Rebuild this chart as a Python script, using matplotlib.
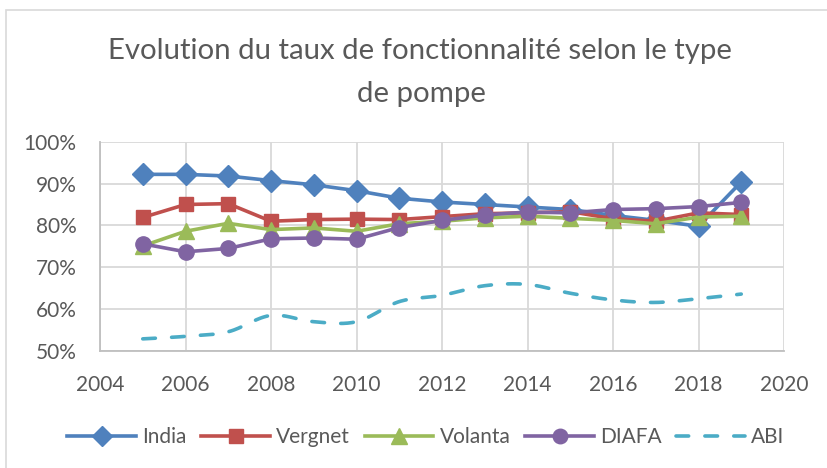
import numpy as np
import matplotlib
matplotlib.use("Agg")
import matplotlib.pyplot as plt
from matplotlib.lines import Line2D
from matplotlib.patches import Rectangle

years = [2005, 2006, 2007, 2008, 2009, 2010, 2011, 2012, 2013, 2014, 2015, 2016, 2017, 2018, 2019]
india = [92.2, 92.2, 91.8, 90.7, 89.7, 88.3, 86.5, 85.6, 85.0, 84.4, 83.8, 82.4, 81.2, 79.8, 90.4]
vergnet = [81.9, 85.0, 85.2, 81.0, 81.4, 81.5, 81.4, 82.1, 82.8, 83.0, 83.3, 81.6, 81.0, 83.0, 82.6]
volanta = [75.1, 78.6, 80.5, 79.0, 79.4, 78.6, 80.4, 81.0, 81.8, 82.2, 81.7, 81.2, 80.4, 82.0, 82.2]
diafa = [75.6, 73.7, 74.5, 76.8, 77.0, 76.7, 79.5, 81.2, 82.5, 83.2, 83.0, 83.8, 84.0, 84.5, 85.5]
abi = [52.9, 53.5, 54.6, 58.5, 57.0, 57.0, 61.8, 63.3, 65.6, 65.9, 63.8, 62.2, 61.6, 62.5, 63.6]

title_lines = ["Evolution du taux de fonctionnalité selon le type", "de pompe"]
xticks = [2004, 2006, 2008, 2010, 2012, 2014, 2016, 2018, 2020]
yticks = [50, 60, 70, 80, 90, 100]

FONT = "Lato"
TXT = "#595959"
plt.rcParams['font.family'] = [FONT, 'DejaVu Sans']

W, H = 827, 468
fig = plt.figure(figsize=(W / 100, H / 100), dpi=100)
fig.patches.append(Rectangle((6 / W, -0.1), 1.2, 1 - 9.5 / H + 0.1, transform=fig.transFigure,
                             fill=False, edgecolor="#D9D9D9", lw=1.2))

ax = fig.add_axes([100 / W, 1 - 351 / H, 684 / W, (351 - 141.7) / H])

def smooth(x, y, n=30):
    x = np.asarray(x, float); y = np.asarray(y, float)
    px = np.concatenate([[x[0]], x, [x[-1]]])
    py = np.concatenate([[y[0]], y, [y[-1]]])
    xs, ys = [], []
    t = np.linspace(0, 1, n)
    for i in range(1, len(px) - 2):
        p0 = np.array([px[i], py[i]]); p3 = np.array([px[i + 1], py[i + 1]])
        c1 = p0 + (np.array([px[i + 1], py[i + 1]]) - np.array([px[i - 1], py[i - 1]])) / 6
        c2 = p3 - (np.array([px[i + 2], py[i + 2]]) - np.array([px[i], py[i]])) / 6
        b = ((1 - t) ** 3)[:, None] * p0 + (3 * (1 - t) ** 2 * t)[:, None] * c1 + \
            (3 * (1 - t) * t ** 2)[:, None] * c2 + (t ** 3)[:, None] * p3
        xs.extend(b[:, 0]); ys.extend(b[:, 1])
    return np.array(xs), np.array(ys)

LW = 2.6
series = [
    ("India", india, "#4F81BD", "D", 11),
    ("Vergnet", vergnet, "#C0504D", "s", 10),
    ("Volanta", volanta, "#9BBB59", "^", 11.5),
    ("DIAFA", diafa, "#8064A2", "o", 11),
]
handles = []
for name, vals, col, mk, ms in series:
    ax.plot(years, np.array(vals) / 100, color=col, lw=LW, marker=mk, ms=ms,
            markeredgecolor=col, markerfacecolor=col, zorder=3, solid_joinstyle="round")
    handles.append(Line2D([], [], color=col, lw=LW, marker=mk, ms=ms * 0.95, label=name))

sx, sy = smooth(years, abi)
ax.plot(sx, sy / 100, color="#4BACC6", lw=LW, dashes=(3.5, 4.5), dash_capstyle="round", zorder=2)
handles.append(Line2D([], [], color="#4BACC6", lw=LW, dashes=(3.5, 4.5), dash_capstyle="round", label="ABI"))

ax.set_xlim(2004, 2020)
ax.set_ylim(0.5, 1.0)
ax.set_xticks(xticks)
ax.set_xticklabels([str(v) for v in xticks])
ax.set_yticks([v / 100 for v in yticks])
ax.set_yticklabels([f"{v}%" for v in yticks])
ax.grid(True, color="#D9D9D9", lw=1.3)
ax.set_axisbelow(True)
for s in ["top", "right"]:
    ax.spines[s].set_visible(False)
for s in ["left", "bottom"]:
    ax.spines[s].set_color("#BFBFBF")
    ax.spines[s].set_linewidth(1.3)
ax.tick_params(length=0, labelsize=15, labelcolor=TXT, pad=17)

fig.text(420 / W, 1 - 51 / H, title_lines[0], ha="center", va="center", fontsize=21.2, color=TXT)
fig.text(421 / W, 1 - 94 / H, title_lines[1], ha="center", va="center", fontsize=21.2, color=TXT)

fig.legend(handles=handles, loc="center", bbox_to_anchor=(426 / W, 1 - 437 / H), ncol=5,
           frameon=False, fontsize=15, handlelength=3.3, handletextpad=0.3, columnspacing=0.7,
           labelcolor=TXT)

fig.savefig("out.png", dpi=100)
